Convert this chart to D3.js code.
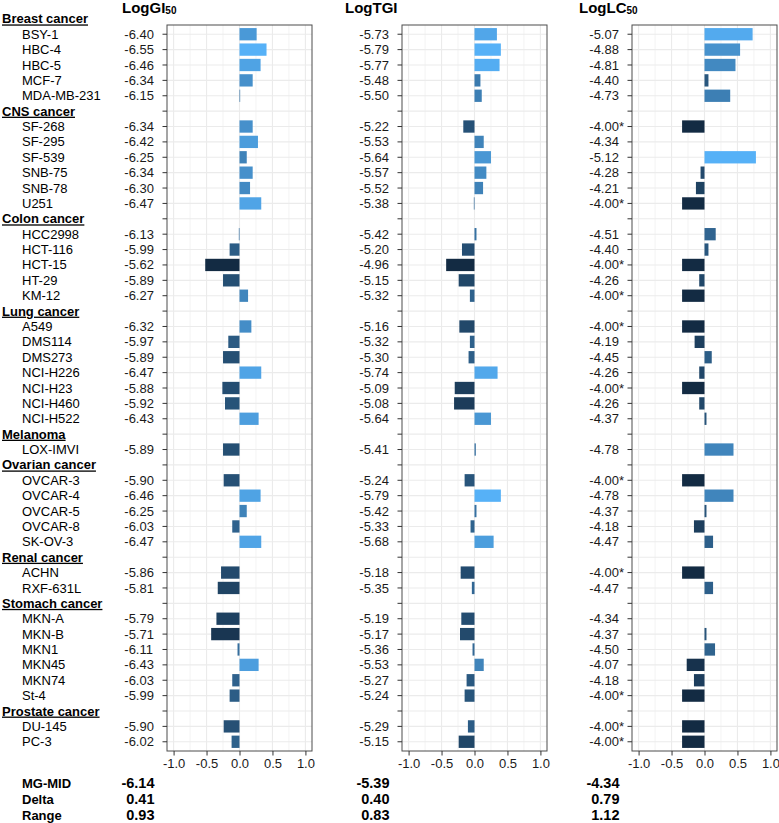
<!DOCTYPE html>
<html><head><meta charset="utf-8">
<script src="https://cdn.jsdelivr.net/npm/d3@7"></script>
<style>
body{margin:0;background:#fff;}
text{font-family:"Liberation Sans",Arial,sans-serif;}
</style></head>
<body><svg id="c" width="779" height="823"></svg>
<script>
const groupNames = ["Breast cancer","CNS cancer","Colon cancer","Lung cancer","Melanoma","Ovarian cancer","Renal cancer","Stomach cancer","Prostate cancer"];
const groupSizes = [5,6,5,7,1,5,2,6,2];
const cellLines = ["BSY-1","HBC-4","HBC-5","MCF-7","MDA-MB-231",
 "SF-268","SF-295","SF-539","SNB-75","SNB-78","U251",
 "HCC2998","HCT-116","HCT-15","HT-29","KM-12",
 "A549","DMS114","DMS273","NCI-H226","NCI-H23","NCI-H460","NCI-H522",
 "LOX-IMVI",
 "OVCAR-3","OVCAR-4","OVCAR-5","OVCAR-8","SK-OV-3",
 "ACHN","RXF-631L",
 "MKN-A","MKN-B","MKN1","MKN45","MKN74","St-4",
 "DU-145","PC-3"];
const logGI50 = [-6.40,-6.55,-6.46,-6.34,-6.15,
 -6.34,-6.42,-6.25,-6.34,-6.30,-6.47,
 -6.13,-5.99,-5.62,-5.89,-6.27,
 -6.32,-5.97,-5.89,-6.47,-5.88,-5.92,-6.43,
 -5.89,
 -5.90,-6.46,-6.25,-6.03,-6.47,
 -5.86,-5.81,
 -5.79,-5.71,-6.11,-6.43,-6.03,-5.99,
 -5.90,-6.02];
const logTGI = [-5.73,-5.79,-5.77,-5.48,-5.50,
 -5.22,-5.53,-5.64,-5.57,-5.52,-5.38,
 -5.42,-5.20,-4.96,-5.15,-5.32,
 -5.16,-5.32,-5.30,-5.74,-5.09,-5.08,-5.64,
 -5.41,
 -5.24,-5.79,-5.42,-5.33,-5.68,
 -5.18,-5.35,
 -5.19,-5.17,-5.36,-5.53,-5.27,-5.24,
 -5.29,-5.15];
const logLC50 = [-5.07,-4.88,-4.81,-4.40,-4.73,
 -4.00,-4.34,-5.12,-4.28,-4.21,-4.00,
 -4.51,-4.40,-4.00,-4.26,-4.00,
 -4.00,-4.19,-4.45,-4.26,-4.00,-4.26,-4.37,
 -4.78,
 -4.00,-4.78,-4.37,-4.18,-4.47,
 -4.00,-4.47,
 -4.34,-4.37,-4.50,-4.07,-4.18,-4.00,
 -4.00,-4.00];
// cell lines whose LC50 is reported as ">" the highest tested concentration
const lc50Capped = ["SF-268","U251","HCT-15","KM-12","A549","NCI-H23","OVCAR-3","ACHN","St-4","DU-145","PC-3"];
const mgMid = [-6.14,-5.39,-4.34];
const delta = [0.41,0.40,0.79];
const rangeVals = [0.93,0.83,1.12];
const statLabels = ["MG-MID","Delta","Range"];
const xTicks = [-1.0,-0.5,0.0,0.5,1.0];

const svg = d3.select("#c");
// build rows
const rows = [];
let k = 0;
groupNames.forEach((g,gi)=>{
  rows.push({type:"h", name:g});
  for(let j=0;j<groupSizes[gi];j++){ rows.push({type:"c", name:cellLines[k], idx:k}); k++; }
});
rows.forEach((r,i)=>r.key=i);
const inPanel = rows.slice(1);
const y = d3.scaleBand().domain(inPanel.map(r=>r.key)).range([25,751]).paddingInner(0.2).paddingOuter(0.2);
const step = y.step();
const yc = i => i===0 ? y(1)+y.bandwidth()/2 - step : y(i)+y.bandwidth()/2;

// left labels
const lab = svg.append("g");
rows.forEach((r,i)=>{
  const t = lab.append("text").attr("y", yc(i)).attr("dy","0.35em").attr("font-size",13).attr("fill","#000");
  if(r.type==="h"){ t.attr("x",2).attr("font-weight","bold").style("text-decoration","underline").text(r.name); }
  else { t.attr("x",22).text(r.name); }
});

const panels = [
  {title:"LogGI", sub:"50", vals:logGI50, range:[167,312], tx:122},
  {title:"LogTGI", sub:"", vals:logTGI, range:[402,547], tx:345},
  {title:"LogLC", sub:"50", vals:logLC50, range:[632,777], tx:579}
];

panels.forEach((p,pi)=>{
  const g = svg.append("g");
  const x = d3.scaleLinear().domain([-1.1,1.1]).range(p.range);
  const devs = p.vals.map(v => mgMid[pi]-v);
  const color = d3.scaleLinear().domain([d3.min(devs), d3.max(devs)]).range(["#132B43","#56B1F7"]).interpolate(d3.interpolateLab);
  const [x0,x1] = p.range;
  // panel background & grid
  g.append("rect").attr("x",x0).attr("y",25).attr("width",x1-x0).attr("height",726).attr("fill","#fff");
  const minor = [-0.75,-0.25,0.25,0.75];
  g.selectAll(".mn").data(minor).join("line").attr("x1",d=>x(d)).attr("x2",d=>x(d)).attr("y1",25).attr("y2",751).attr("stroke","#EBEBEB").attr("stroke-width",0.6);
  g.selectAll(".mj").data(xTicks).join("line").attr("x1",d=>x(d)).attr("x2",d=>x(d)).attr("y1",25).attr("y2",751).attr("stroke","#EBEBEB").attr("stroke-width",1.1);
  g.selectAll(".hg").data(inPanel).join("line").attr("x1",x0).attr("x2",x1).attr("y1",d=>yc(d.key)).attr("y2",d=>yc(d.key)).attr("stroke","#EBEBEB").attr("stroke-width",1.1);
  // bars
  const cellsRows = rows.filter(r=>r.type==="c");
  g.selectAll(".bar").data(cellsRows).join("rect")
    .attr("x", d=>Math.min(x(0), x(devs[d.idx])))
    .attr("width", d=>Math.abs(x(devs[d.idx])-x(0)))
    .attr("y", d=>y(d.key)).attr("height", y.bandwidth())
    .attr("fill", d=>color(devs[d.idx]));
  // border
  g.append("rect").attr("x",x0).attr("y",25).attr("width",x1-x0).attr("height",726).attr("fill","none").attr("stroke","#4d4d4d").attr("stroke-width",1);
  // y ticks
  g.selectAll(".yt").data(inPanel).join("line").attr("x1",x0-4.5).attr("x2",x0).attr("y1",d=>yc(d.key)).attr("y2",d=>yc(d.key)).attr("stroke","#333").attr("stroke-width",1);
  g.selectAll(".yl").data(cellsRows).join("text")
    .attr("x", x0-42.7).attr("y", d=>yc(d.key)).attr("dy","0.35em").attr("font-size",13).attr("fill","#1a1a1a")
    .text(d=>p.vals[d.idx].toFixed(2) + (pi===2 && lc50Capped.includes(d.name) ? "*" : ""));
  // x axis
  const ax = g.append("g").attr("transform","translate(0,751)").call(d3.axisBottom(x).tickValues(xTicks).tickSize(4.5).tickPadding(3).tickFormat(d3.format(".1f")));
  ax.select(".domain").remove();
  ax.selectAll("line").attr("stroke","#333");
  ax.selectAll("text").attr("font-size",13).attr("fill","#1a1a1a").attr("font-family","Liberation Sans, Arial, sans-serif").text(d=>d3.format(".1f")(d).replace("−","-"));
  // title
  const tt = g.append("text").attr("x",p.tx).attr("y",13).attr("font-size",15).attr("font-weight","bold").attr("fill","#000");
  tt.append("tspan").text(p.title);
  if(p.sub) tt.append("tspan").attr("font-size",10).attr("dy",1).text(p.sub);
  // stats
  const sv = [mgMid[pi].toFixed(2), delta[pi].toFixed(2), rangeVals[pi].toFixed(2)];
  sv.forEach((s,si)=>{
    g.append("text").attr("x", x0-12.5).attr("y", 788+si*16).attr("text-anchor","end").attr("font-size",14.5).attr("font-weight","bold").attr("fill","#000").text(s);
  });
});
statLabels.forEach((s,si)=>{
  svg.append("text").attr("x",22).attr("y",788+si*16).attr("font-size",13).attr("font-weight","bold").attr("fill","#000").text(s);
});
</script></body></html>
